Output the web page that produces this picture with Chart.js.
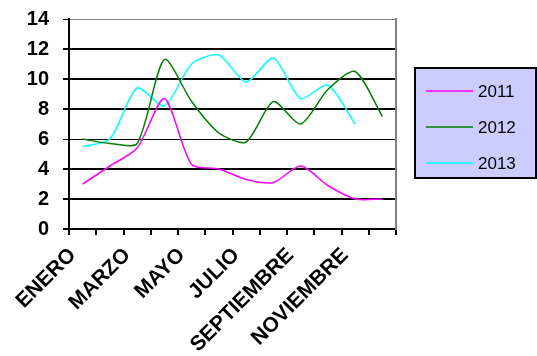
<!DOCTYPE html>
<html>
<head>
<meta charset="utf-8">
<script src="https://cdn.jsdelivr.net/npm/chart.js@4.4.0/dist/chart.umd.min.js"></script>
<style>
  html, body { margin: 0; padding: 0; background: #fff; }
  #wrap { width: 537px; height: 356px; }
</style>
</head>
<body>
<div id="wrap"><canvas id="chart" width="537" height="356"></canvas></div>
<script>
"use strict"

// months (only every other one is shown on the axis)
const months = [
    'ENERO', 'FEBRERO', 'MARZO', 'ABRIL', 'MAYO', 'JUNIO',
    'JULIO', 'AGOSTO', 'SEPTIEMBRE', 'OCTUBRE', 'NOVIEMBRE', 'DICIEMBRE'
]
const years = ['2011', '2012', '2013']
const values2011 = [3.0, 4.2, 5.4, 8.7, 4.3, 4.0, 3.3, 3.1, 4.2, 2.9, 2.0, 2.0]
const values2012 = [6.0, 5.7, 5.7, 11.3, 8.5, 6.4, 5.8, 8.5, 7.0, 9.3, 10.5, 7.5]
const values2013 = [5.5, 6.0, 9.4, 8.2, 11.0, 11.6, 9.8, 11.4, 8.7, 9.6, 7.0, null]
const yTicks = [0, 2, 4, 6, 8, 10, 12, 14]

const lineColors = ['#FF00FF', '#008000', '#00FFFF']

let makeSet = function(label, data, color) {
    return {
        label,
        data,
        borderColor: color,
        backgroundColor: color,
        borderWidth: 1.5,
        pointRadius: 0,
        tension: 0.25,
        fill: false
    }
}

// legend drawn as a lavender box to the right of the plot
const boxLegend = {
    id: 'boxLegend',
    afterDraw(chart) {
        let ctx = chart.ctx
        let x = 415, y = 68, w = 121, h = 110
        ctx.save()
        ctx.fillStyle = '#CCCCFF'
        ctx.fillRect(x, y, w, h)
        ctx.strokeStyle = '#000'
        ctx.lineWidth = 2
        ctx.strokeRect(x, y, w, h)
        ctx.font = '17px "Liberation Sans", Arial, sans-serif'
        ctx.textBaseline = 'middle'
        chart.data.datasets.forEach((ds, i) => {
            let cy = 91 + i * 36
            ctx.strokeStyle = ds.borderColor
            ctx.lineWidth = 1.5
            ctx.beginPath()
            ctx.moveTo(426, cy)
            ctx.lineTo(473, cy)
            ctx.stroke()
            ctx.fillStyle = '#000'
            ctx.fillText(ds.label, 478, cy + 1)
        })
        ctx.restore()
    }
}

let gridColor = function(c) {
    if (c.tick && c.tick.value === 14) return '#808080'
    return '#000'
}
let gridWidth = function(c) {
    if (c.tick && (c.tick.value === 14 || c.tick.value === 6)) return 1
    return 2
}

let ctx = document.getElementById('chart').getContext('2d')
let myChart = new Chart(ctx, {
    type: 'line',
    data: {
        labels: months,
        datasets: [
            makeSet(years[0], values2011, lineColors[0]),
            makeSet(years[1], values2012, lineColors[1]),
            makeSet(years[2], values2013, lineColors[2])
        ]
    },
    options: {
        responsive: false,
        animation: false,
        layout: { padding: { left: 0, right: 141, top: 19, bottom: 0 } },
        plugins: {
            legend: { display: false },
            tooltip: { enabled: false }
        },
        scales: {
            x: {
                offset: true,
                afterFit: axis => { axis.height = 127; axis.paddingLeft = 0; axis.paddingRight = 0 },
                grid: {
                    offset: true,
                    drawOnChartArea: false,
                    drawTicks: true,
                    tickLength: 6,
                    color: '#000',
                    lineWidth: 2
                },
                border: { color: '#000', width: 2 },
                ticks: {
                    autoSkip: false,
                    maxRotation: 45,
                    minRotation: 45,
                    padding: 8,
                    labelOffset: -10,
                    color: '#000',
                    font: { family: '"Liberation Sans", Arial, sans-serif', size: 21, weight: 'bold' },
                    callback: function(v, i) { return i % 2 === 0 ? months[i] : '' }
                }
            },
            y: {
                min: 0,
                max: 14,
                afterBuildTicks: axis => { axis.ticks = yTicks.map(v => ({ value: v })) },
                afterFit: axis => { axis.width = 69; axis.paddingTop = 0; axis.paddingBottom = 0 },
                grid: {
                    color: gridColor,
                    lineWidth: gridWidth,
                    tickLength: 6,
                    tickColor: '#000'
                },
                border: { color: '#000', width: 2 },
                ticks: {
                    padding: 14,
                    color: '#000',
                    font: { family: '"Liberation Sans", Arial, sans-serif', size: 20, weight: 'bold' }
                }
            },
            y2: {
                position: 'right',
                min: 0,
                max: 14,
                afterFit: axis => { axis.width = 0; axis.paddingTop = 0; axis.paddingBottom = 0 },
                grid: { drawOnChartArea: false, drawTicks: false },
                border: { color: '#808080', width: 2 },
                ticks: { display: false }
            }
        }
    },
    plugins: [boxLegend]
})
</script>
</body>
</html>
